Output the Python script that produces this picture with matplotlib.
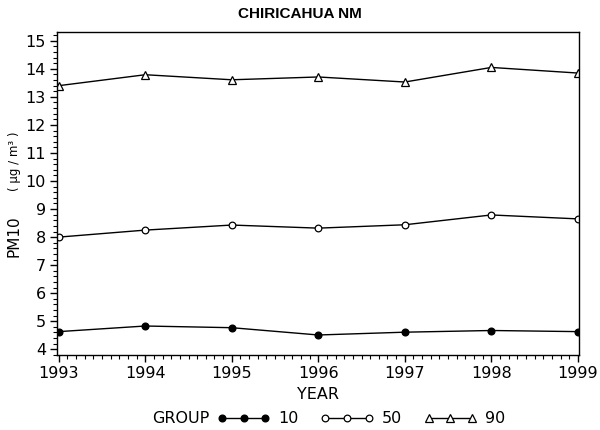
import matplotlib
matplotlib.use("Agg")
import matplotlib.pyplot as plt

years = [1993, 1994, 1995, 1996, 1997, 1998, 1999]
p10 = [4.63, 4.83, 4.77, 4.51, 4.61, 4.67, 4.63]
p50 = [8.00, 8.25, 8.43, 8.32, 8.44, 8.79, 8.65]
p90 = [13.40, 13.79, 13.61, 13.71, 13.53, 14.05, 13.85]
groups = ["10", "50", "90"]
yticks = list(range(4, 16))

tick_font = "DejaVu Sans"

fig = plt.figure(figsize=(6, 4.3), dpi=100)
ax = fig.add_axes([0.095, 0.174, 0.8695, 0.752])

l1, = ax.plot(years, p10, color="black", lw=1, marker="o", ms=4.8,
              mfc="black", mec="black")
l2, = ax.plot(years, p50, color="black", lw=1, marker="o", ms=4.8,
              mfc="white", mec="black", mew=0.9)
l3, = ax.plot(years, p90, color="black", lw=1, marker="^", ms=5.2,
              mfc="white", mec="black", mew=0.9)

ax.set_xlim(1992.98, 1999.01)
ax.set_ylim(3.79, 15.32)
ax.set_xticks(years)
ax.set_xticks([y + i / 10 for y in years[:-1] for i in range(1, 10)], minor=True)
ax.set_yticks(yticks)
ax.set_yticks([y + i / 5 for y in yticks for i in range(1, 5) if y + i / 5 < 15.3]
              + [3.8], minor=True)
ax.tick_params(which="major", direction="out", length=5, width=1,
               labelsize=11.5, pad=3)
ax.tick_params(which="minor", direction="out", length=3, width=0.8)
ax.tick_params(axis="both", which="both", top=False, right=False)
for lab in ax.get_xticklabels() + ax.get_yticklabels():
    lab.set_fontfamily(tick_font)
for s in ax.spines.values():
    s.set_linewidth(1)

fig.text(0.5, 0.968, "CHIRICAHUA NM", ha="center", va="center",
         fontsize=11, fontweight="bold", family="Liberation Sans")
fig.text(0.53, 0.082, "YEAR", ha="center", va="center", fontsize=11.5,
         family=tick_font)
fig.text(0.024, 0.45, "PM10", rotation=90, ha="center", va="center",
         fontsize=11, family=tick_font)
fig.text(0.024, 0.625, "( \u03bcg / m\u00b3 )", rotation=90,
         ha="center", va="center", fontsize=8.5, family=tick_font)

fig.text(0.253, 0.026, "GROUP", ha="left", va="center", fontsize=11.5,
         family=tick_font)
fig.legend([l1, l2, l3], groups, loc="center left",
           bbox_to_anchor=(0.362, 0.026), ncol=3, frameon=False,
           numpoints=3, handlelength=3.3, handletextpad=0.5,
           columnspacing=1.4, borderpad=0, borderaxespad=0,
           prop={"family": tick_font, "size": 11.5})

fig.savefig("out.png", dpi=100)
